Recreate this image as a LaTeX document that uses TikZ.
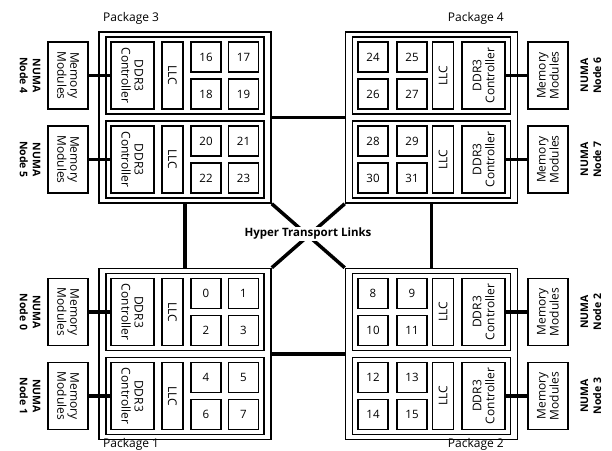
\documentclass[tikz,border=0pt]{standalone}
\usepackage{fontspec}
\setmainfont{Open Sans}
\begin{document}
\begin{tikzpicture}[x=1pt,y=-1pt]
\tikzset{trait/.style={draw,line width=1.6pt,inner sep=0pt},
paquet/.style={trait,minimum width=172pt,minimum height=171pt},
puce/.style={trait,minimum width=158pt,minimum height=77pt},
ddr/.style={trait,minimum width=67pt,minimum height=43pt,align=center,font=\fontsize{12}{13}\selectfont},
llc/.style={trait,minimum width=67pt,minimum height=21pt,font=\fontsize{12}{13}\selectfont},
coeur/.style={trait,minimum size=30pt,font=\fontsize{11.5}{13}\selectfont},
memoire/.style={trait,minimum width=67pt,minimum height=40pt,align=center,font=\fontsize{12}{13}\selectfont},
numa/.style={align=center,inner sep=0pt,font=\bfseries\fontsize{10.5}{13}\selectfont},
gauche/.style={rotate=-90},
droite/.style={rotate=90},
etiquette/.style={inner sep=0pt,font=\fontsize{12}{14}\selectfont},
lien/.style={line width=3.5pt}}
\useasboundingbox (0,0) rectangle (612,450);

% Package 3
\node[paquet] (P3) at (185,117.5) {};
\node[etiquette,anchor=west] (E3) at (103,18) {Package 3};
\node[puce] (N4) at (185,75.5) {};
\node[puce] (N5) at (185,159.5) {};
\node[memoire,gauche] (M4) at (68,75.5) {Memory\\Modules};
\node[ddr,gauche] (D4) at (132.5,75.5) {DDR3\\Controller};
\node[llc,gauche] (L4) at (172.5,75.5) {LLC};
\node[coeur] (C16) at (206,57) {16};
\node[coeur] (C17) at (243.5,57) {17};
\node[coeur] (C18) at (206,94) {18};
\node[coeur] (C19) at (243.5,94) {19};
\node[numa,gauche] (T4) at (30,75.5) {NUMA\\Node 4};
\node[memoire,gauche] (M5) at (68,159.5) {Memory\\Modules};
\node[ddr,gauche] (D5) at (132.5,159.5) {DDR3\\Controller};
\node[llc,gauche] (L5) at (172.5,159.5) {LLC};
\node[coeur] (C20) at (206,141) {20};
\node[coeur] (C21) at (243.5,141) {21};
\node[coeur] (C22) at (206,178) {22};
\node[coeur] (C23) at (243.5,178) {23};
\node[numa,gauche] (T5) at (30,159.5) {NUMA\\Node 5};

% Package 4
\node[paquet] (P4) at (431.5,117.5) {};
\node[etiquette,anchor=east] (E4) at (504,18) {Package 4};
\node[puce] (N6) at (431.5,75.5) {};
\node[puce] (N7) at (431.5,159.5) {};
\node[memoire,droite] (M6) at (548,75.5) {Memory\\Modules};
\node[ddr,droite] (D6) at (483.5,75.5) {DDR3\\Controller};
\node[llc,droite] (L6) at (443,75.5) {LLC};
\node[coeur] (C24) at (373,57) {24};
\node[coeur] (C25) at (412,57) {25};
\node[coeur] (C26) at (373,94) {26};
\node[coeur] (C27) at (412,94) {27};
\node[numa,droite] (T6) at (591,75.5) {NUMA\\Node 6};
\node[memoire,droite] (M7) at (548,159.5) {Memory\\Modules};
\node[ddr,droite] (D7) at (483.5,159.5) {DDR3\\Controller};
\node[llc,droite] (L7) at (443,159.5) {LLC};
\node[coeur] (C28) at (373,141) {28};
\node[coeur] (C29) at (412,141) {29};
\node[coeur] (C30) at (373,178) {30};
\node[coeur] (C31) at (412,178) {31};
\node[numa,droite] (T7) at (591,159.5) {NUMA\\Node 7};

% Package 1
\node[paquet] (P1) at (185,354) {};
\node[etiquette,anchor=west] (E1) at (103,444) {Package 1};
\node[puce] (N0) at (185,312) {};
\node[puce] (N1) at (185,396) {};
\node[memoire,gauche] (M0) at (68,312) {Memory\\Modules};
\node[ddr,gauche] (D0) at (132.5,312) {DDR3\\Controller};
\node[llc,gauche] (L0) at (172.5,312) {LLC};
\node[coeur] (C0) at (206,293.5) {0};
\node[coeur] (C1) at (243.5,293.5) {1};
\node[coeur] (C2) at (206,330.5) {2};
\node[coeur] (C3) at (243.5,330.5) {3};
\node[numa,gauche] (T0) at (30,312) {NUMA\\Node 0};
\node[memoire,gauche] (M1) at (68,396) {Memory\\Modules};
\node[ddr,gauche] (D1) at (132.5,396) {DDR3\\Controller};
\node[llc,gauche] (L1) at (172.5,396) {LLC};
\node[coeur] (C4) at (206,377.5) {4};
\node[coeur] (C5) at (243.5,377.5) {5};
\node[coeur] (C6) at (206,414.5) {6};
\node[coeur] (C7) at (243.5,414.5) {7};
\node[numa,gauche] (T1) at (30,396) {NUMA\\Node 1};

% Package 2
\node[paquet] (P2) at (431.5,354) {};
\node[etiquette,anchor=east] (E2) at (504,444) {Package 2};
\node[puce] (N2) at (431.5,312) {};
\node[puce] (N3) at (431.5,396) {};
\node[memoire,droite] (M2) at (548,312) {Memory\\Modules};
\node[ddr,droite] (D2) at (483.5,312) {DDR3\\Controller};
\node[llc,droite] (L2) at (443,312) {LLC};
\node[coeur] (C8) at (373,293.5) {8};
\node[coeur] (C9) at (412,293.5) {9};
\node[coeur] (C10) at (373,330.5) {10};
\node[coeur] (C11) at (412,330.5) {11};
\node[numa,droite] (T2) at (591,312) {NUMA\\Node 2};
\node[memoire,droite] (M3) at (548,396) {Memory\\Modules};
\node[ddr,droite] (D3) at (483.5,396) {DDR3\\Controller};
\node[llc,droite] (L3) at (443,396) {LLC};
\node[coeur] (C12) at (373,377.5) {12};
\node[coeur] (C13) at (412,377.5) {13};
\node[coeur] (C14) at (373,414.5) {14};
\node[coeur] (C15) at (412,414.5) {15};
\node[numa,droite] (T3) at (591,396) {NUMA\\Node 3};

\draw[lien] (M4.north) -- (D4.south);
\draw[lien] (M5.north) -- (D5.south);
\draw[lien] (M6.north) -- (D6.south);
\draw[lien] (M7.north) -- (D7.south);
\draw[lien] (M0.north) -- (D0.south);
\draw[lien] (M1.north) -- (D1.south);
\draw[lien] (M2.north) -- (D2.south);
\draw[lien] (M3.north) -- (D3.south);

\draw[lien] (P3.east) -- (P4.west);
\draw[lien] (P1.east) -- (P2.west);
\draw[lien] (P3.south) -- (P1.north);
\draw[lien] (P4.south) -- (P2.north);
\draw[lien] (P3.south east) -- (P2.north west);
\draw[lien] (P4.south west) -- (P1.north east);
\node[fill=white,inner sep=1pt,font=\bfseries\fontsize{11.5}{13}\selectfont] (H) at (308,234) {Hyper Transport Links};
\end{tikzpicture}
\end{document}
